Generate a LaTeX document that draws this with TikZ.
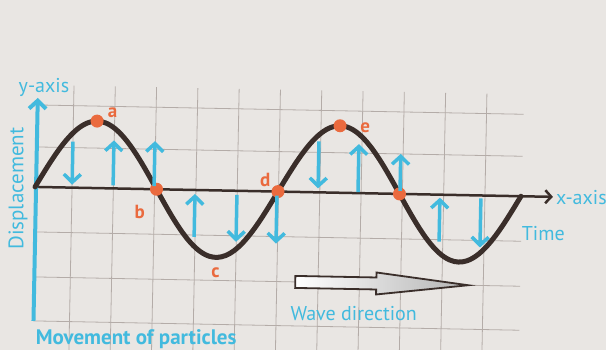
\documentclass[tikz,border=0pt]{standalone}
\usepackage{fontspec}
\setmainfont{PT Sans}
\usepackage{tikz}
\usetikzlibrary{arrows.meta}
\definecolor{paper}{RGB}{233,230,227}
\definecolor{skyb}{RGB}{66,186,222}
\definecolor{dotred}{RGB}{234,106,62}
\definecolor{curvec}{RGB}{58,46,42}
\definecolor{gridc}{RGB}{180,172,168}

\begin{document}
\begin{tikzpicture}[x=1pt,y=-1pt,
  gridline/.style={gridc,line width=0.8pt},
  wave/.style={curvec,line width=5pt,line cap=round},
  mov/.style={skyb,line width=3.5pt,-{Straight Barb[length=8pt,width=17pt]}},
  pnt/.style={circle,fill=dotred,inner sep=0pt,minimum size=13pt},
  lbl/.style={text=dotred,font=\fontsize{19}{21}\selectfont\bfseries,inner sep=0pt},
  txt/.style={text=skyb,font=\fontsize{20}{22}\selectfont,inner sep=0pt}]
  \fill[paper] (0,0) rectangle (606,350);
  \useasboundingbox (0,0) rectangle (606,350);
  \begin{scope}[rotate around={-1.1:(300,192)}]
  \foreach \k in {0,...,10}
    \draw[gridline] (72+41.3*\k,90) -- (72+41.3*\k,356);
  \foreach \y in {110,152,237,282,326}
    \draw[gridline] (36,\y) -- (522,\y);
  \draw[curvec,line width=2.5pt,-{Straight Barb[length=6pt,width=13pt]}] (36,192) -- (553,192);
  \draw[skyb,line width=4pt,-{Straight Barb[length=8pt,width=17pt]}] (36,326) -- (36,103);
  \draw[wave,domain=35:521,samples=120,smooth] plot (\x,{192-67*sin((\x-35)/121.5*180)});
  \foreach \n/\x/\y in {a/95.75/125,b/156.5/192,d/278/192,e/338.75/125,f/399.5/192}
    \node[pnt] (p\n) at (\x,\y) {};
  \foreach \x/\ya/\yb in {72/146/189,113/189/144,154/189/144,195/239/196,237/196/243,
      277/196/244,318/141/188,358/191/143,400/189/152,440/239/195,481/195/244}
    \draw[mov] (\x,\ya) -- (\x,\yb);
  \node[lbl] (la) at (111,116) {a};
  \node[lbl] (lb) at (140,215) {b};
  \node[lbl] (lc) at (217,274) {c};
  \node[lbl] (ld) at (265,181) {d};
  \node[lbl] (le) at (364,127) {e};
  \draw[curvec,line width=1.8pt,left color=white,right color=black!30]
    (297,276) -- (378,276) -- (378,271) -- (470,282) -- (378,293) -- (378,288) -- (297,288) -- cycle;
  \node[txt] (yax) at (42,92) {y-axis};
  \node[txt,rotate=90,font=\fontsize{21}{23}\selectfont] (disp) at (18,194) {Displacement};
  \node[txt,anchor=west] (xax) at (556,193) {x-axis};
  \node[txt] (time) at (544,229) {Time};
  \node[txt] (wdir) at (356,312) {Wave direction};
  \node[txt,font=\fontsize{21}{23}\selectfont\bfseries] (mop) at (139,342) {Movement of particles};
  \end{scope}
\end{tikzpicture}
\end{document}
